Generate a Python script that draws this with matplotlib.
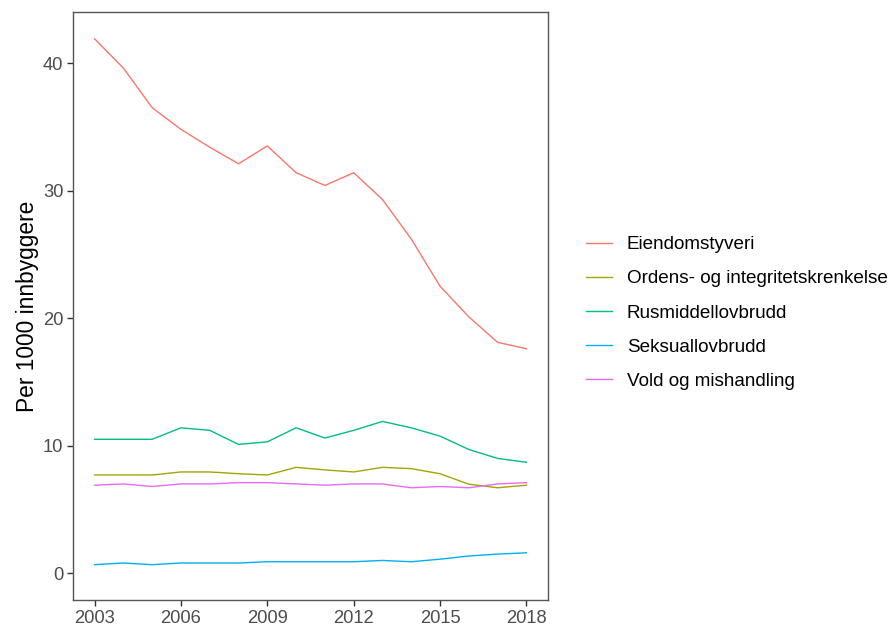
import numpy as np
import matplotlib.pyplot as plt

plt.rcParams['font.family'] = ['Liberation Sans', 'DejaVu Sans']

years = list(range(2003, 2019))

eiendom = [41.9, 39.6, 36.5, 34.8, 33.4, 32.1, 33.5, 31.4, 30.4, 31.4,
           29.3, 26.2, 22.5, 20.1, 18.1, 17.6]
ordens = [7.7, 7.7, 7.7, 7.94, 7.94, 7.8, 7.7, 8.3, 8.1, 7.94,
          8.3, 8.2, 7.8, 6.98, 6.7, 6.9]
rus = [10.5, 10.5, 10.5, 11.4, 11.2, 10.1, 10.3, 11.4, 10.6, 11.2,
       11.9, 11.4, 10.75, 9.7, 9.0, 8.7]
seksual = [0.67, 0.8, 0.67, 0.8, 0.8, 0.8, 0.9, 0.9, 0.9, 0.9,
           1.0, 0.9, 1.1, 1.35, 1.5, 1.6]
vold = [6.9, 7.0, 6.8, 7.0, 7.0, 7.1, 7.1, 7.0, 6.9, 7.0,
        7.0, 6.7, 6.8, 6.7, 7.0, 7.1]

labels = ["Eiendomstyveri", "Ordens- og integritetskrenkelse",
          "Rusmiddellovbrudd", "Seksuallovbrudd", "Vold og mishandling"]
colors = ["#F8766D", "#A3A500", "#00BF7D", "#00B0F6", "#E76BF3"]
series = [eiendom, ordens, rus, seksual, vold]

fig = plt.figure(figsize=(8.91, 6.31), dpi=100)
ax = fig.add_axes([73/891, 1-600/631, (548-73)/891, (600-12)/631])

for vals, lab, col in zip(series, labels, colors):
    ax.plot(years, vals, color=col, lw=1.0, label=lab)

ax.set_xlim(2002.25, 2018.75)
ax.set_ylim(-2.1, 44)
ax.set_xticks([2003, 2006, 2009, 2012, 2015, 2018])
ax.set_yticks([0, 10, 20, 30, 40])
ax.tick_params(colors="#4D4D4D", labelsize=13.2, length=4, width=1,
               direction="out", pad=3)
ax.tick_params(axis="both", color="#333333")
for s in ax.spines.values():
    s.set_color("#555555")
    s.set_linewidth(1.0)
ax.set_ylabel("Per 1000 innbyggere", fontsize=16.4, color="black", labelpad=3)

leg = fig.legend(loc="center left", bbox_to_anchor=(569/891, 1-313/631),
                 frameon=False, fontsize=13.6, handlelength=1.38,
                 handletextpad=0.79, labelspacing=0.90)

fig.savefig("out.png", dpi=100)
